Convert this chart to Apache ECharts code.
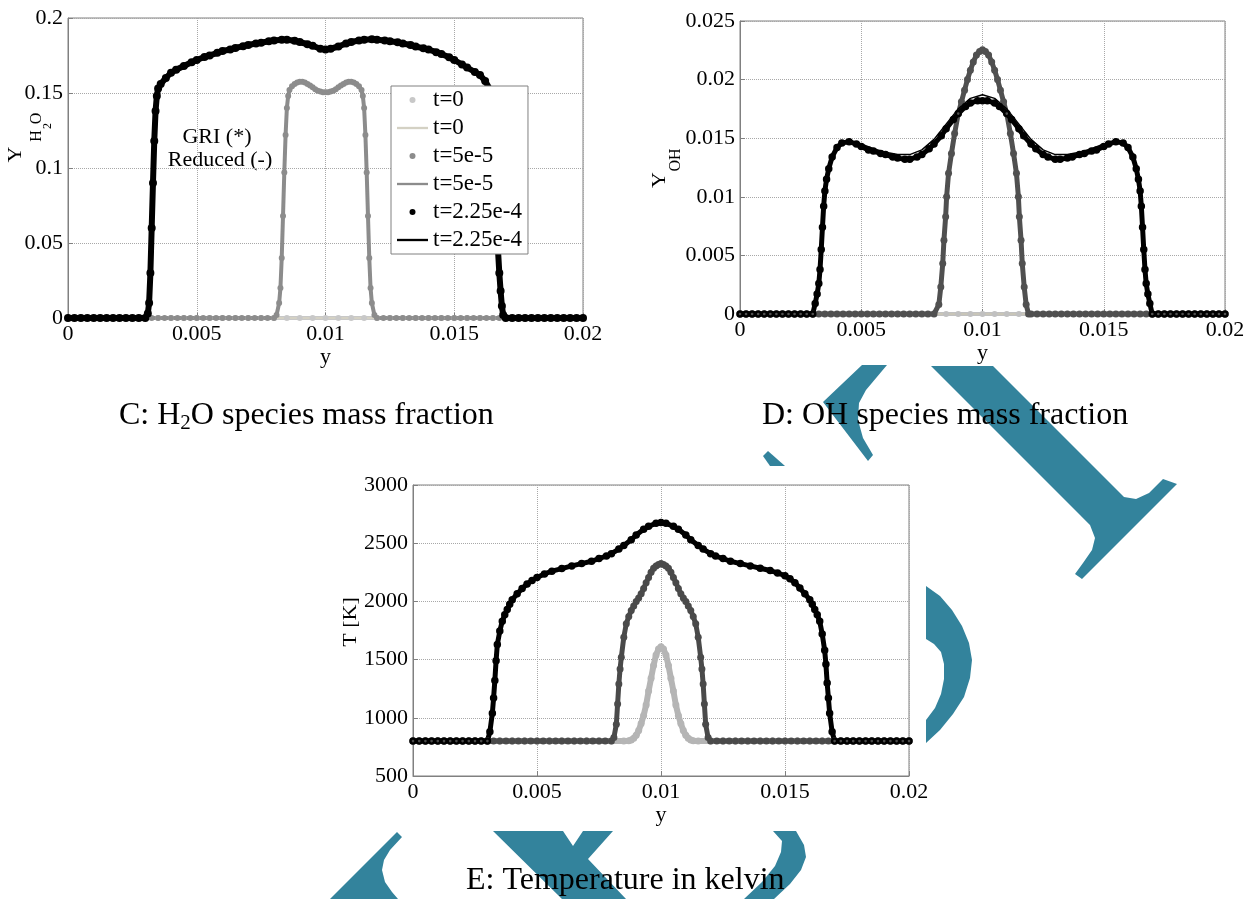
<!DOCTYPE html>
<html><head><meta charset="utf-8">
<script src="https://cdn.jsdelivr.net/npm/echarts@6.0.0/dist/echarts.min.js"></script>
<style>html,body{margin:0;padding:0;background:#fff}#c{width:1251px;height:899px}</style>
</head><body><div id="c"></div><script>
// ---------- DATA ----------
// C: H2O mass fraction
const h2o_t0 = [[0,0],[0.0005,0],[0.001,0],[0.0015,0],[0.002,0],[0.0025,0],[0.003,0],[0.0035,0],[0.004,0],[0.0045,0],[0.005,0],[0.0055,0],[0.006,0],[0.0065,0],[0.007,0],[0.0075,0],[0.008,0],[0.0085,0],[0.009,0],[0.0095,0],[0.01,0],[0.0105,0],[0.011,0],[0.0115,0],[0.012,0],[0.0125,0],[0.013,0],[0.0135,0],[0.014,0],[0.0145,0],[0.015,0],[0.0155,0],[0.016,0],[0.0165,0],[0.017,0],[0.0175,0],[0.018,0],[0.0185,0],[0.019,0],[0.0195,0],[0.02,0]];
const h2o_t5 = [[0,0],[0.00025,0],[0.0005,0],[0.00075,0],[0.001,0],[0.00125,0],[0.0015,0],[0.00175,0],[0.002,0],[0.00225,0],[0.0025,0],[0.00275,0],[0.003,0],[0.00325,0],[0.0035,0],[0.00375,0],[0.004,0],[0.00425,0],[0.0045,0],[0.00475,0],[0.005,0],[0.00525,0],[0.0055,0],[0.00575,0],[0.006,0],[0.00625,0],[0.0065,0],[0.00675,0],[0.007,0],[0.00725,0],[0.0075,0],[0.00775,0],[0.008,0],
 [0.0081,0.002],[0.0082,0.01],[0.00825,0.02],[0.0083,0.04],[0.00835,0.068],[0.0084,0.097],[0.00845,0.122],[0.0085,0.14],[0.00855,0.148],[0.0086,0.152],[0.0087,0.1545],[0.0088,0.156],[0.0089,0.157],[0.009,0.1575],[0.0091,0.1575],[0.0092,0.157],[0.0093,0.156],[0.0094,0.155],[0.0095,0.1538],[0.0096,0.1525],[0.0097,0.1515],[0.0098,0.151],[0.0099,0.1505],[0.01,0.1505],[0.0101,0.1505],[0.0102,0.151],[0.0103,0.1515],[0.0104,0.1525],[0.0105,0.1538],[0.0106,0.155],[0.0107,0.156],[0.0108,0.157],[0.0109,0.1575],[0.011,0.1575],[0.0111,0.157],[0.0112,0.156],[0.0113,0.1545],[0.0114,0.152],[0.01145,0.148],[0.0115,0.14],[0.01155,0.122],[0.0116,0.097],[0.01165,0.068],[0.0117,0.04],[0.01175,0.02],[0.0118,0.01],[0.0119,0.002],[0.012,0],
 [0.01225,0],[0.0125,0],[0.01275,0],[0.013,0],[0.01325,0],[0.0135,0],[0.01375,0],[0.014,0],[0.01425,0],[0.0145,0],[0.01475,0],[0.015,0],[0.01525,0],[0.0155,0],[0.01575,0],[0.016,0],[0.01625,0],[0.0165,0],[0.01675,0],[0.017,0],[0.01725,0],[0.0175,0],[0.01775,0],[0.018,0],[0.01825,0],[0.0185,0],[0.01875,0],[0.019,0],[0.01925,0],[0.0195,0],[0.01975,0],[0.02,0]];
const h2o_t225 = [[0,0],[0.00025,0],[0.0005,0],[0.00075,0],[0.001,0],[0.00125,0],[0.0015,0],[0.00175,0],[0.002,0],[0.00225,0],[0.0025,0],[0.00275,0],[0.003,0],
 [0.0031,0.003],[0.00315,0.01],[0.0032,0.03],[0.00325,0.06],[0.0033,0.09],[0.00335,0.118],[0.0034,0.138],[0.00345,0.148],[0.0035,0.153],[0.0036,0.156],[0.0038,0.16],[0.004,0.1635],[0.0042,0.1655],[0.0045,0.168],[0.0048,0.1705],[0.005,0.172],[0.0053,0.174],[0.0055,0.175],[0.0058,0.1768],[0.006,0.178],[0.0063,0.179],[0.0065,0.18],[0.0068,0.1812],[0.007,0.182],[0.0073,0.183],[0.0075,0.1835],[0.0078,0.1845],[0.008,0.185],[0.0083,0.1855],[0.0085,0.1855],[0.0088,0.1848],[0.009,0.184],[0.0093,0.1825],[0.0095,0.1815],[0.0098,0.1795],[0.01,0.179],[0.0102,0.1795],[0.0105,0.181],[0.0108,0.183],[0.011,0.184],[0.0113,0.185],[0.0115,0.1855],[0.0118,0.1858],[0.012,0.1855],[0.0123,0.185],[0.0125,0.1845],[0.0128,0.1838],[0.013,0.183],[0.0133,0.182],[0.0135,0.181],[0.0138,0.1798],[0.014,0.179],[0.0143,0.1772],[0.0145,0.176],[0.0148,0.1738],[0.015,0.172],[0.0153,0.169],[0.0155,0.167],[0.0158,0.164],[0.016,0.162],[0.0162,0.158],[0.0164,0.152],[0.0165,0.14],[0.01655,0.12],[0.0166,0.1],[0.01665,0.07],[0.0167,0.045],[0.01675,0.03],[0.0168,0.018],[0.01685,0.008],[0.0169,0.002],[0.017,0],
 [0.01725,0],[0.0175,0],[0.01775,0],[0.018,0],[0.01825,0],[0.0185,0],[0.01875,0],[0.019,0],[0.01925,0],[0.0195,0],[0.01975,0],[0.02,0]];

// D: OH mass fraction
const oh_t0 = [[0,0],[0.0005,0],[0.001,0],[0.0015,0],[0.002,0],[0.0025,0],[0.003,0],[0.0035,0],[0.004,0],[0.0045,0],[0.005,0],[0.0055,0],[0.006,0],[0.0065,0],[0.007,0],[0.0075,0],[0.008,0],[0.0085,0],[0.009,0],[0.0095,0],[0.01,0],[0.0105,0],[0.011,0],[0.0115,0],[0.012,0],[0.0125,0],[0.013,0],[0.0135,0],[0.014,0],[0.0145,0],[0.015,0],[0.0155,0],[0.016,0],[0.0165,0],[0.017,0],[0.0175,0],[0.018,0],[0.0185,0],[0.019,0],[0.0195,0],[0.02,0]];
const oh_t5 = [[0,0],[0.00025,0],[0.0005,0],[0.00075,0],[0.001,0],[0.00125,0],[0.0015,0],[0.00175,0],[0.002,0],[0.00225,0],[0.0025,0],[0.00275,0],[0.003,0],[0.00325,0],[0.0035,0],[0.00375,0],[0.004,0],[0.00425,0],[0.0045,0],[0.00475,0],[0.005,0],[0.00525,0],[0.0055,0],[0.00575,0],[0.006,0],[0.00625,0],[0.0065,0],[0.00675,0],[0.007,0],[0.00725,0],[0.0075,0],[0.00775,0],[0.008,0],
 [0.0082,0.0008],[0.00828,0.0023],[0.00836,0.0043],[0.00841,0.0063],[0.00848,0.0083],[0.00852,0.01],[0.0086,0.012],[0.00872,0.0137],[0.00885,0.0154],[0.009,0.0171],[0.00913,0.0181],[0.00926,0.0191],[0.00938,0.02],[0.0095,0.0208],[0.00962,0.0215],[0.00975,0.0221],[0.00988,0.0224],[0.01,0.02255],[0.01012,0.0224],[0.01025,0.0221],[0.01038,0.0215],[0.0105,0.0208],[0.01062,0.02],[0.01074,0.0191],[0.01087,0.0181],[0.011,0.0171],[0.01115,0.0154],[0.01128,0.0137],[0.0114,0.012],[0.01148,0.01],[0.01152,0.0083],[0.01159,0.0063],[0.01164,0.0043],[0.01172,0.0023],[0.0118,0.0008],[0.0119,0],
 [0.012,0],[0.01225,0],[0.0125,0],[0.01275,0],[0.013,0],[0.01325,0],[0.0135,0],[0.01375,0],[0.014,0],[0.01425,0],[0.0145,0],[0.01475,0],[0.015,0],[0.01525,0],[0.0155,0],[0.01575,0],[0.016,0],[0.01625,0],[0.0165,0],[0.01675,0],[0.017,0],[0.01725,0],[0.0175,0],[0.01775,0],[0.018,0],[0.01825,0],[0.0185,0],[0.01875,0],[0.019,0],[0.01925,0],[0.0195,0],[0.01975,0],[0.02,0]];
const oh_t225 = [[0,0],[0.00025,0],[0.0005,0],[0.00075,0],[0.001,0],[0.00125,0],[0.0015,0],[0.00175,0],[0.002,0],[0.00225,0],[0.0025,0],[0.00275,0],[0.003,0],
 [0.0031,0.0009],[0.00318,0.0017],[0.00325,0.0026],[0.0033,0.0038],[0.00335,0.0055],[0.0034,0.0074],[0.00345,0.0092],[0.0035,0.0105],[0.00357,0.0115],[0.00366,0.0124],[0.0038,0.0134],[0.004,0.0142],[0.0042,0.0146],[0.0045,0.0147],[0.0048,0.0145],[0.005,0.0143],[0.0053,0.014],[0.0055,0.0139],[0.0058,0.0137],[0.006,0.0136],[0.0063,0.0134],[0.0065,0.0133],[0.0068,0.0132],[0.007,0.0132],[0.0073,0.0134],[0.0075,0.0136],[0.0078,0.0141],[0.008,0.0145],[0.0083,0.0152],[0.0085,0.0158],[0.0088,0.0166],[0.009,0.0171],[0.0093,0.0177],[0.0095,0.018],[0.0098,0.0182],[0.01,0.0182],[0.0102,0.0182],[0.0105,0.018],[0.0107,0.0177],[0.011,0.0171],[0.0112,0.0166],[0.0115,0.0158],[0.0117,0.0152],[0.012,0.0145],[0.0122,0.0141],[0.0125,0.0136],[0.0127,0.0134],[0.013,0.0132],[0.0132,0.0132],[0.0135,0.0133],[0.0137,0.0134],[0.014,0.0136],[0.0142,0.0137],[0.0145,0.0139],[0.0147,0.014],[0.015,0.0143],[0.0152,0.0145],[0.0155,0.0147],[0.0158,0.0146],[0.016,0.0142],[0.0162,0.0134],[0.01634,0.0124],[0.01643,0.0115],[0.0165,0.0105],[0.01655,0.0092],[0.0166,0.0074],[0.01665,0.0055],[0.0167,0.0038],[0.01675,0.0026],[0.01682,0.0017],[0.0169,0.0009],[0.017,0],
 [0.01725,0],[0.0175,0],[0.01775,0],[0.018,0],[0.01825,0],[0.0185,0],[0.01875,0],[0.019,0],[0.01925,0],[0.0195,0],[0.01975,0],[0.02,0]];
const oh_t225_reduced = [[0,0],[0.003,0],[0.0031,0.0009],[0.00325,0.0026],[0.0034,0.0074],[0.0035,0.0105],[0.00366,0.0125],[0.0038,0.0135],[0.004,0.0143],[0.0045,0.0148],[0.005,0.0145],[0.0055,0.0141],[0.006,0.0138],[0.0065,0.0136],[0.007,0.0136],[0.0075,0.014],[0.008,0.0149],[0.0085,0.0162],[0.009,0.0175],[0.0095,0.0184],[0.01,0.0187],[0.0105,0.0184],[0.011,0.0175],[0.0115,0.0162],[0.012,0.0149],[0.0125,0.014],[0.013,0.0136],[0.0135,0.0136],[0.014,0.0138],[0.0145,0.0141],[0.015,0.0145],[0.0155,0.0148],[0.016,0.0143],[0.01634,0.0125],[0.0165,0.0105],[0.0166,0.0074],[0.01675,0.0026],[0.0169,0.0009],[0.017,0],[0.02,0]];

// E: temperature [K]
const T_t0 = [[0,800],[0.0005,800],[0.001,800],[0.0015,800],[0.002,800],[0.0025,800],[0.003,800],[0.0035,800],[0.004,800],[0.0045,800],[0.005,800],[0.0055,800],[0.006,800],[0.0065,800],[0.007,800],[0.0075,800],[0.008,800],[0.0085,800],
 [0.0087,803],[0.0088,810],[0.0089,825],[0.009,850],[0.0091,890],[0.0092,950],[0.0093,1020],[0.0094,1110],[0.0095,1230],[0.0096,1340],[0.0097,1450],[0.0098,1540],[0.0099,1590],[0.01,1610],[0.0101,1590],[0.0102,1540],[0.0103,1450],[0.0104,1340],[0.0105,1230],[0.0106,1110],[0.0107,1020],[0.0108,950],[0.0109,890],[0.011,850],[0.0111,825],[0.0112,810],[0.0113,803],
 [0.0115,800],[0.012,800],[0.0125,800],[0.013,800],[0.0135,800],[0.014,800],[0.0145,800],[0.015,800],[0.0155,800],[0.016,800],[0.0165,800],[0.017,800],[0.0175,800],[0.018,800],[0.0185,800],[0.019,800],[0.0195,800],[0.02,800]];
const T_t5 = [[0,800],[0.00025,800],[0.0005,800],[0.00075,800],[0.001,800],[0.00125,800],[0.0015,800],[0.00175,800],[0.002,800],[0.00225,800],[0.0025,800],[0.00275,800],[0.003,800],[0.00325,800],[0.0035,800],[0.00375,800],[0.004,800],[0.00425,800],[0.0045,800],[0.00475,800],[0.005,800],[0.00525,800],[0.0055,800],[0.00575,800],[0.006,800],[0.00625,800],[0.0065,800],[0.00675,800],[0.007,800],[0.00725,800],[0.0075,800],[0.00775,800],[0.008,800],
 [0.0081,830],[0.0082,945],[0.00825,1118],[0.0083,1290],[0.00835,1420],[0.0084,1520],[0.0085,1693],[0.0086,1807],[0.0087,1870],[0.0088,1922],[0.0089,1960],[0.009,2000],[0.0091,2030],[0.0092,2065],[0.0093,2110],[0.0094,2160],[0.0095,2205],[0.0096,2250],[0.0097,2285],[0.0098,2305],[0.0099,2318],[0.01,2325],[0.0101,2318],[0.0102,2305],[0.0103,2285],[0.0104,2250],[0.0105,2205],[0.0106,2160],[0.0107,2110],[0.0108,2065],[0.0109,2030],[0.011,2000],[0.0111,1960],[0.0112,1922],[0.0113,1870],[0.0114,1807],[0.0115,1693],[0.0116,1520],[0.01165,1420],[0.0117,1290],[0.01175,1118],[0.0118,945],[0.0119,830],[0.012,800],
 [0.01225,800],[0.0125,800],[0.01275,800],[0.013,800],[0.01325,800],[0.0135,800],[0.01375,800],[0.014,800],[0.01425,800],[0.0145,800],[0.01475,800],[0.015,800],[0.01525,800],[0.0155,800],[0.01575,800],[0.016,800],[0.01625,800],[0.0165,800],[0.01675,800],[0.017,800],[0.01725,800],[0.0175,800],[0.01775,800],[0.018,800],[0.01825,800],[0.0185,800],[0.01875,800],[0.019,800],[0.01925,800],[0.0195,800],[0.01975,800],[0.02,800]];
const T_t225 = [[0,800],[0.00025,800],[0.0005,800],[0.00075,800],[0.001,800],[0.00125,800],[0.0015,800],[0.00175,800],[0.002,800],[0.00225,800],[0.0025,800],[0.00275,800],[0.003,800],
 [0.0031,880],[0.0032,1040],[0.00325,1170],[0.0033,1320],[0.00335,1490],[0.0034,1630],[0.0035,1745],[0.0036,1830],[0.0037,1885],[0.0038,1930],[0.0039,1975],[0.004,2015],[0.0042,2065],[0.0044,2110],[0.0046,2150],[0.0048,2180],[0.005,2205],[0.0053,2235],[0.0056,2260],[0.006,2282],[0.0064,2305],[0.0068,2325],[0.0072,2345],[0.0075,2368],[0.0078,2390],[0.008,2410],[0.0083,2450],[0.0085,2480],[0.0088,2530],[0.009,2570],[0.0093,2620],[0.0095,2645],[0.0098,2672],[0.01,2678],[0.0102,2672],[0.0105,2645],[0.0107,2620],[0.011,2570],[0.0112,2530],[0.0115,2480],[0.0117,2450],[0.012,2410],[0.0122,2390],[0.0125,2368],[0.0128,2345],[0.0132,2325],[0.0136,2305],[0.014,2285],[0.0144,2265],[0.0147,2245],[0.015,2220],[0.0152,2195],[0.0154,2160],[0.0156,2115],[0.0158,2065],[0.016,2015],[0.0161,1975],[0.0162,1930],[0.0163,1885],[0.0164,1830],[0.0165,1720],[0.0166,1580],[0.01665,1460],[0.0167,1300],[0.01675,1170],[0.0168,1040],[0.0169,880],[0.017,800],
 [0.01725,800],[0.0175,800],[0.01775,800],[0.018,800],[0.01825,800],[0.0185,800],[0.01875,800],[0.019,800],[0.01925,800],[0.0195,800],[0.01975,800],[0.02,800]];

const legendNames = ['c_d0','c_l0','c_d1','c_l1','c_d2','c_l2'];
const legendLabels = ['t=0','t=0','t=5e-5','t=5e-5','t=2.25e-4','t=2.25e-4'];

// ---------- CHART ----------
const FONT = '"Liberation Serif","Times New Roman",serif';
const fmt = v => String(+(+v).toFixed(6));
const RING = 'path://M0,-10A10,10 0 1,1 0,10A10,10 0 1,1 0,-10ZM0,-3.5A3.5,3.5 0 1,0 0,3.5A3.5,3.5 0 1,0 0,-3.5Z';
const grids = [
  {left:68, top:18, width:515, height:300, show:true, borderColor:'#808080', borderWidth:1},
  {left:740, top:21, width:485, height:293, show:true, borderColor:'#808080', borderWidth:1},
  {left:413, top:485, width:496, height:291, show:true, borderColor:'#808080', borderWidth:1}
];
const split = {show:true, lineStyle:{type:'dotted', color:'#a8a8a8', width:1}};
function xAx(gi, gap){
  return {type:'value', gridIndex:gi, min:0, max:0.02, interval:0.005, name:'y', nameLocation:'middle', nameGap:gap,
    nameTextStyle:{fontFamily:FONT, fontSize:22, color:'#000'},
    axisLine:{show:true, onZero:false, lineStyle:{color:'#808080'}},
    axisTick:{show:true, inside:true, length:5, lineStyle:{color:'#808080'}},
    axisLabel:{fontFamily:FONT, fontSize:22, color:'#000', margin:5, formatter:fmt},
    splitLine:split};
}
function yAx(gi, mn, mx, iv){
  return {type:'value', gridIndex:gi, min:mn, max:mx, interval:iv,
    axisLine:{show:true, onZero:false, lineStyle:{color:'#808080'}},
    axisTick:{show:true, inside:true, length:5, lineStyle:{color:'#808080'}},
    axisLabel:{fontFamily:FONT, fontSize:22, color:'#000', margin:5, formatter:fmt},
    splitLine:split};
}
const series = [];
// GRI samples: dense markers (drawn as a marker chain)
function dots(gi, name, data, color, size, ring, band){
  series.push({type:'line', name, xAxisIndex:gi, yAxisIndex:gi, data, silent:true,
    showSymbol:true, showAllSymbol:true,
    symbol: ring ? RING : 'circle', symbolSize:size,
    lineStyle:{color, width:band},
    itemStyle:{color: color, borderWidth:0, opacity:1}});
}
// reduced-mechanism solid line
function line(gi, name, data, color, width){
  series.push({type:'line', name, xAxisIndex:gi, yAxisIndex:gi, data, silent:true, symbol:'none',
    lineStyle:{color, width}, itemStyle:{color}});
}
// C
dots(0,'c_d0',h2o_t0,'#c8c8c8',6,false,4);
line(0,'c_l0',h2o_t0,'#d4d1c4',2);
dots(0,'c_d1',h2o_t5,'#8c8c8c',6,false,4);
line(0,'c_l1',h2o_t5,'#8c8c8c',2);
dots(0,'c_d2',h2o_t225,'#000000',8,false,6);
line(0,'c_l2',h2o_t225,'#000000',2);
// D
dots(1,'d_d0',oh_t0,'#c0c0c0',6,false,4);
line(1,'d_l0',oh_t0,'#c8c5b8',2);
dots(1,'d_d1',oh_t5,'#505050',7,false,5);
line(1,'d_l1',oh_t5,'#505050',2);
dots(1,'d_d2',oh_t225,'#000000',7.5,true,5);
line(1,'d_l2',oh_t225_reduced,'#000000',1.5);
// E
dots(2,'e_d0',T_t0,'#b5b5b5',7,false,6);
line(2,'e_l0',T_t0,'#b5b5b5',2);
dots(2,'e_d1',T_t5,'#4a4a4a',7,false,5);
line(2,'e_l1',T_t5,'#4a4a4a',2);
dots(2,'e_d2',T_t225,'#000000',7.5,true,5);
line(2,'e_l2',T_t225,'#000000',1.5);

const TEAL = '#33839c';
function poly(pts){ return {type:'polygon', shape:{points:pts}, style:{fill:TEAL}, silent:true}; }
function rtxt(x,y,text,size,extra){
  return Object.assign({type:'text', x, y, silent:true,
    style:{text, fill:'#000', font: size+'px '+FONT, align:'center', verticalAlign:'middle', textAlign:'center', textVerticalAlign:'middle'}}, extra||{});
}
const graphics = [
  poly([[931,366],[993,366],[1124,497],[1136,499],[1149,493],[1163,479],[1177,484],[1082,579],[1075,574],[1083,563],[1092,550],[1095,538],[1090,525],[1080,515]]),
  poly([[862,365],[887,365],[866,390],[859,403],[858,420],[863,438],[873,455],[868,461],[823,402]]),
  poly([[763,456],[768,451],[785,466],[770,466]]),
  poly([[926,586],[940,596],[952,610],[962,626],[969,643],[972,660],[970,678],[964,697],[953,714],[940,730],[926,743],[926,720],[935,708],[941,694],[944,679],[944,664],[941,652],[934,644],[926,639]]),
  poly([[397,832],[402,837],[390,850],[384,860],[382,870],[385,882],[392,892],[398,899],[330,899]]),
  poly([[493,831],[563,831],[573,846],[583,831],[613,831],[588,859],[626,899],[562,899]]),
  poly([[773,831],[796,831],[804,845],[806,857],[801,870],[790,884],[774,899],[744,899],[762,882],[775,866],[781,852],[782,841]]),
  // y-axis titles
  rtxt(16.5,154.5,'Y',22,{rotation:Math.PI/2, scaleY:0.85}),
  rtxt(37,136,'H',16,{rotation:Math.PI/2}),
  rtxt(48,126,'2',12,{rotation:Math.PI/2}),
  rtxt(37,118.5,'O',16,{rotation:Math.PI/2}),
  rtxt(660,180,'Y',22,{rotation:Math.PI/2, scaleY:0.85}),
  rtxt(676,160,'OH',16,{rotation:Math.PI/2}),
  rtxt(351,622,'T [K]',22,{rotation:Math.PI/2, scaleY:0.85}),
  // annotations
  rtxt(217,137,'GRI (*)',22),
  rtxt(220,160,'Reduced (-)',22),
  // captions
  {type:'text', x:119, y:416, silent:true, style:{
    text:'{a|C: H}{s|2}{a|O species mass fraction}', fill:'#000', align:'left', verticalAlign:'middle', textAlign:'left', textVerticalAlign:'middle',
    rich:{a:{fontFamily:FONT, fontSize:32, lineHeight:36, color:'#000'}, s:{fontFamily:FONT, fontSize:21, lineHeight:24, verticalAlign:'bottom', color:'#000'}}}},
  {type:'text', x:762, y:416, silent:true, style:{text:'D: OH species mass fraction', fill:'#000', font:'32px '+FONT, align:'left', verticalAlign:'middle', textAlign:'left', textVerticalAlign:'middle'}},
  {type:'text', x:466, y:881, silent:true, style:{text:'E: Temperature in kelvin', fill:'#000', font:'32px '+FONT, align:'left', verticalAlign:'middle', textAlign:'left', textVerticalAlign:'middle'}}
];

const LINE_ICON = 'path://M0 0H40V3H0Z';
const chart = echarts.init(document.getElementById('c'), null, {renderer:'canvas'});
chart.setOption({
  animation:false,
  backgroundColor:'#fff',
  grid: grids,
  xAxis: [xAx(0,20), xAx(1,21), xAx(2,21)],
  yAxis: [yAx(0,0,0.2,0.05), yAx(1,0,0.025,0.005), yAx(2,500,3000,500)],
  legend: {
    data: legendNames.map((n,i) => ({name:n, icon: i % 2 === 0 ? 'circle' : LINE_ICON})),
    orient:'vertical', left:391, top:86,
    itemWidth:31, itemHeight:6, itemGap:4, padding:[2,6,2,6],
    backgroundColor:'#fff', borderColor:'#808080', borderWidth:1, borderRadius:0,
    selectedMode:false,
    textStyle:{fontFamily:FONT, fontSize:23, color:'#000', lineHeight:24},
    formatter: n => legendLabels[legendNames.indexOf(n)]
  },
  series: series,
  graphic: {elements: graphics}
});
</script></body></html>
